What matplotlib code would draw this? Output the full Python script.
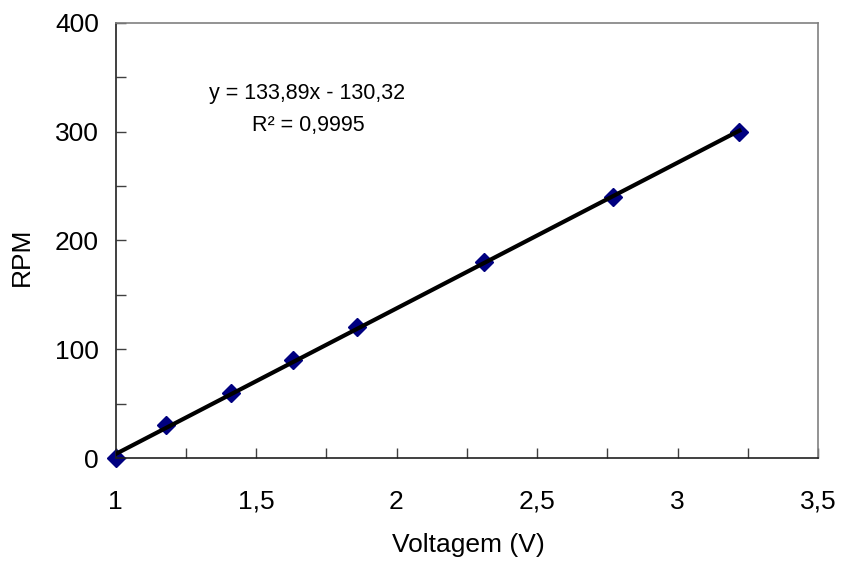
import matplotlib.pyplot as plt
import numpy as np
from matplotlib.ticker import MultipleLocator, FuncFormatter

plt.rcParams["font.family"] = ["Liberation Sans", "DejaVu Sans"]

# calibration points
voltage = [1.00, 1.18, 1.41, 1.63, 1.86, 2.31, 2.77, 3.22]
rpm = [0, 30, 60, 90, 120, 180, 240, 300]

# linear trend line as printed on the chart
slope = 133.89
intercept = -130.32
r2 = 0.9995

W, H = 843, 565


def comma_fmt(v, pos):
    return f"{v:g}".replace(".", ",")


fig = plt.figure(figsize=(W / 100, H / 100), dpi=100)
ax = fig.add_axes([115.5 / W, 1 - 458 / H, (818 - 115.5) / W, (458 - 22.7) / H])

xs = np.array([min(voltage), max(voltage)])
ax.plot(xs, slope * xs + intercept, color="black", linewidth=3, zorder=3)
ax.plot(voltage, rpm, linestyle="none", marker="D", markersize=9,
        color="#000080", zorder=2, clip_on=False)

ax.set_xlim(1, 3.5)
ax.set_ylim(0, 400)
ax.xaxis.set_major_locator(MultipleLocator(0.5))
ax.xaxis.set_minor_locator(MultipleLocator(0.25))
ax.yaxis.set_major_locator(MultipleLocator(100))
ax.yaxis.set_minor_locator(MultipleLocator(50))
ax.xaxis.set_major_formatter(FuncFormatter(comma_fmt))

ax.tick_params(axis="both", which="both", direction="in", length=7,
               width=1, color="#404040", labelsize=19)
ax.tick_params(axis="x", which="major", pad=23)
ax.tick_params(axis="y", which="major", pad=12)

for side in ("left", "bottom"):
    ax.spines[side].set_color("#202020")
    ax.spines[side].set_linewidth(1.2)
for side in ("top", "right"):
    ax.spines[side].set_color("#808080")
    ax.spines[side].set_linewidth(1.2)

# axis titles placed by pixel centre
fig.text(468 / W, 1 - 545 / H, "Voltagem (V)", fontsize=19,
         ha="center", va="center")
fig.text(22 / W, 1 - 257 / H, "RPM", fontsize=19, rotation=90,
         ha="center", va="center")

eq = f"y = {slope:.2f}x - {abs(intercept):.2f}".replace(".", ",")
fig.text(307 / W, 1 - 93 / H, eq, fontsize=15.5, ha="center", va="center")
fig.text(308 / W, 1 - 125 / H, f"R² = {r2:.4f}".replace(".", ","),
         fontsize=15.5, ha="center", va="center")

fig.savefig("out.png", dpi=100)
